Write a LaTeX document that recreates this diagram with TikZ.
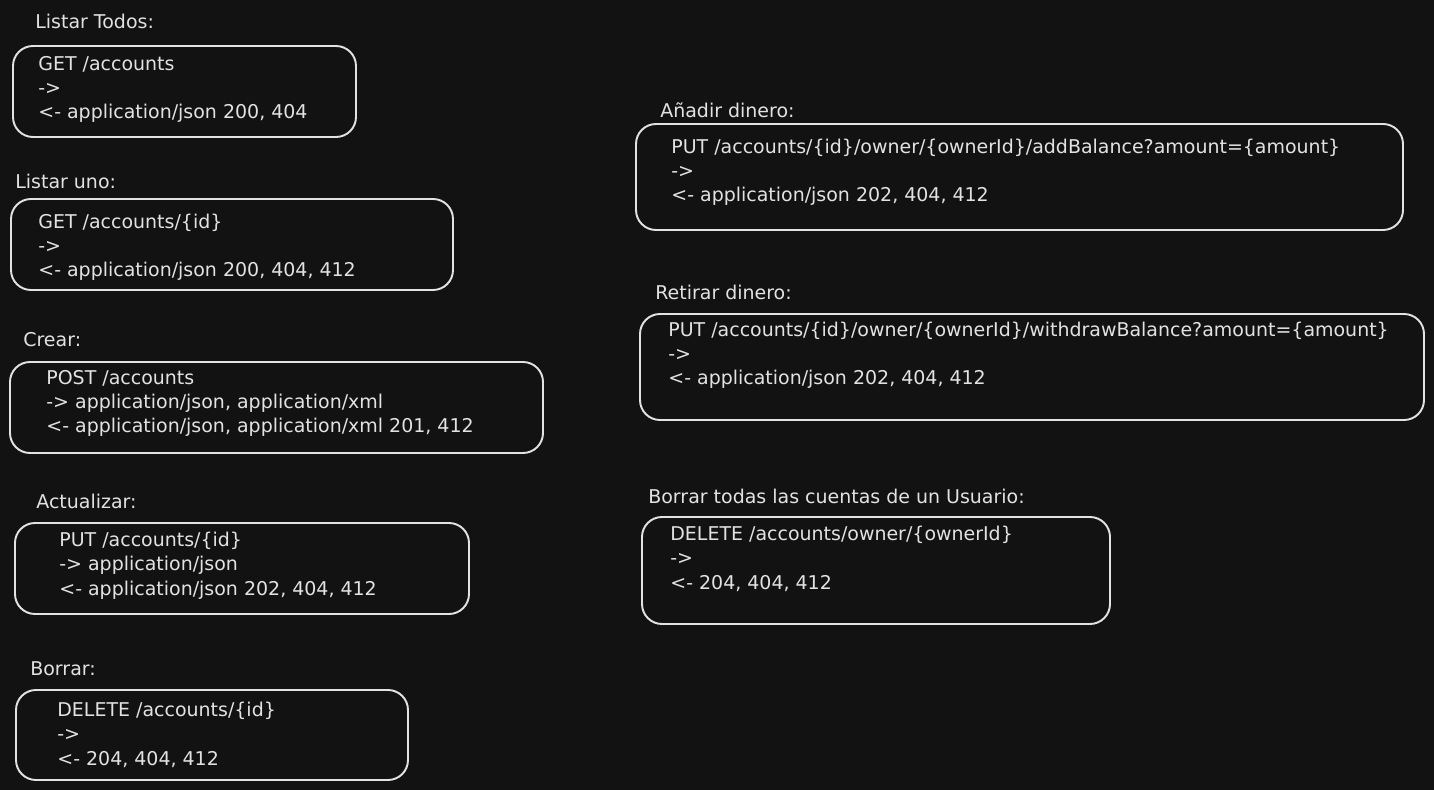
\documentclass[tikz,border=0pt]{standalone}
\usepackage{fontspec}
\setmainfont{DejaVu Sans}
\usepackage{tikz}
\usetikzlibrary{fit}
\definecolor{canvas}{RGB}{18,18,18}
\definecolor{chalk}{RGB}{226,226,226}

\begin{document}
\begin{tikzpicture}[
  x=0.02cm, y=-0.02cm,
  endpoint/.style={rectangle, draw=chalk, line width=1.1pt, rounded corners=0.4cm, inner sep=0pt},
  caption/.style={anchor=base west, inner sep=0pt, text=chalk, font=\fontsize{10.8}{13.9}\selectfont},
  % base anchor sits on the last of the three lines
  request/.style={anchor=base west, inner sep=0pt, align=left, text=chalk, font=\fontsize{10.8}{13.9}\selectfont}
]
\fill[canvas] (0,0) rectangle (1434,790);

% left column
\node[caption] (todosLbl) at (35,29) {Listar Todos:};
\node[endpoint, fit={(13,46) (356,137)}] (todos) {};
\node[request] (todosTxt) at (38,119) {GET /accounts\\->\\<- application/json 200, 404};

\node[caption] (unoLbl) at (15,189) {Listar uno:};
\node[endpoint, fit={(11,199) (453,290)}] (uno) {};
\node[request] (unoTxt) at (38,277) {GET /accounts/\{id\}\\->\\<- application/json 200, 404, 412};

\node[caption] (crearLbl) at (23,347) {Crear:};
\node[endpoint, fit={(10,362) (543,453)}] (crear) {};
\node[request] (crearTxt) at (46,433) {POST /accounts\\-> application/json, application/xml\\<- application/json, application/xml 201, 412};

\node[caption] (actLbl) at (36,509) {Actualizar:};
\node[endpoint, fit={(15,523) (469,614)}] (act) {};
\node[request] (actTxt) at (59,595) {PUT /accounts/\{id\}\\-> application/json\\<- application/json 202, 404, 412};

\node[caption] (borrarLbl) at (30,675) {Borrar:};
\node[endpoint, fit={(16,690) (408,780)}] (borrar) {};
\node[request] (borrarTxt) at (57,765) {DELETE /accounts/\{id\}\\->\\<- 204, 404, 412};

% right column
\node[caption] (addLbl) at (660,118) {Añadir dinero:};
\node[endpoint, fit={(636,124) (1403,230)}] (add) {};
\node[request] (addTxt) at (671,202) {PUT /accounts/\{id\}/owner/\{ownerId\}/addBalance?amount=\{amount\}\\->\\<- application/json 202, 404, 412};

\node[caption] (retLbl) at (655,300) {Retirar dinero:};
\node[endpoint, fit={(640,314) (1424,420)}] (ret) {};
\node[request] (retTxt) at (668,385) {PUT /accounts/\{id\}/owner/\{ownerId\}/withdrawBalance?amount=\{amount\}\\->\\<- application/json 202, 404, 412};

\node[caption] (ownerLbl) at (648,503) {Borrar todas las cuentas de un Usuario:};
\node[endpoint, fit={(642,517) (1110,624)}] (owner) {};
\node[request] (ownerTxt) at (670,589) {DELETE /accounts/owner/\{ownerId\}\\->\\<- 204, 404, 412};
\end{tikzpicture}
\end{document}
